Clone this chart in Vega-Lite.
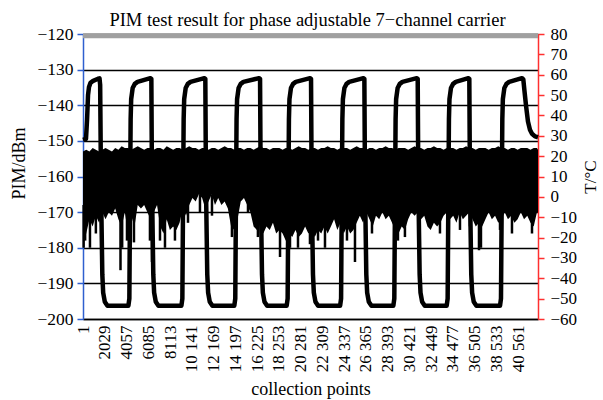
{
"$schema": "https://vega.github.io/schema/vega-lite/v6.json",
"width": 455, "height": 285,
"autosize": {"type": "none"},
"padding": {"left": 83, "top": 34, "right": 65, "bottom": 81},
"title": {"text": "PIM test result for phase adjustable 7−channel carrier", "font": "Liberation Serif", "fontSize": 18.5, "fontWeight": "normal", "color": "#000", "offset": -4, "anchor": "middle", "frame": "group", "dx": -3},
"config": {"view": {"stroke": null}, "axis": {"labelFont": "Liberation Serif", "titleFont": "Liberation Serif", "labelFontSize": 17, "titleFontSize": 17, "titleFontWeight": "normal", "labelColor": "#000", "titleColor": "#000"}},
"datasets": {
"noise": [
{"n":1,"hi":-153,"lo":-179},{"n":300,"hi":-152.5,"lo":-176},{"n":600,"hi":-153,"lo":-172},{"n":900,"hi":-152,"lo":-174},{"n":1200,"hi":-152.5,"lo":-171},{"n":1500,"hi":-153,"lo":-173},{"n":1800,"hi":-152.5,"lo":-170},{"n":2100,"hi":-152,"lo":-172},{"n":2400,"hi":-152.5,"lo":-170},{"n":2700,"hi":-153,"lo":-171},{"n":3000,"hi":-152,"lo":-169},{"n":3300,"hi":-152.5,"lo":-172},{"n":3600,"hi":-151.5,"lo":-174},{"n":3900,"hi":-152,"lo":-170},{"n":4200,"hi":-152,"lo":-176},{"n":4500,"hi":-152.5,"lo":-171},{"n":4800,"hi":-152,"lo":-174},{"n":5100,"hi":-151.5,"lo":-168},{"n":5400,"hi":-152,"lo":-169},{"n":5700,"hi":-152.5,"lo":-168},{"n":6000,"hi":-152,"lo":-170},{"n":6300,"hi":-152,"lo":-172},{"n":6600,"hi":-152.5,"lo":-170},{"n":6900,"hi":-152,"lo":-168},{"n":7200,"hi":-152,"lo":-174},{"n":7500,"hi":-152.5,"lo":-176},{"n":7800,"hi":-151.5,"lo":-172},{"n":8100,"hi":-152,"lo":-175},{"n":8400,"hi":-152.5,"lo":-174},{"n":8700,"hi":-152,"lo":-175},{"n":9000,"hi":-152,"lo":-173},{"n":9300,"hi":-152.5,"lo":-169},{"n":9600,"hi":-152,"lo":-171},{"n":9900,"hi":-151.5,"lo":-168},{"n":10200,"hi":-152,"lo":-166},{"n":10500,"hi":-152,"lo":-167},{"n":10800,"hi":-152.5,"lo":-165},{"n":11100,"hi":-152,"lo":-166},{"n":11400,"hi":-152,"lo":-169},{"n":11700,"hi":-152.5,"lo":-167},{"n":12000,"hi":-152,"lo":-165},{"n":12300,"hi":-152,"lo":-168},{"n":12600,"hi":-152.5,"lo":-166},{"n":12900,"hi":-152,"lo":-168},{"n":13200,"hi":-151.5,"lo":-167},{"n":13500,"hi":-152,"lo":-169},{"n":13800,"hi":-152,"lo":-174},{"n":14100,"hi":-152.5,"lo":-175},{"n":14400,"hi":-152,"lo":-172},{"n":14700,"hi":-152,"lo":-167},{"n":15000,"hi":-152.5,"lo":-166},{"n":15300,"hi":-152,"lo":-168},{"n":15600,"hi":-152,"lo":-170},{"n":15900,"hi":-152.5,"lo":-174},{"n":16200,"hi":-152,"lo":-175},{"n":16500,"hi":-151.5,"lo":-173},{"n":16800,"hi":-152,"lo":-176},{"n":17100,"hi":-152,"lo":-174},{"n":17400,"hi":-152.5,"lo":-175},{"n":17700,"hi":-152,"lo":-173},{"n":18000,"hi":-152,"lo":-176},{"n":18300,"hi":-152,"lo":-175},{"n":18600,"hi":-152.5,"lo":-176},{"n":18900,"hi":-152,"lo":-178},{"n":19200,"hi":-152,"lo":-176},{"n":19500,"hi":-152.5,"lo":-177},{"n":19800,"hi":-152,"lo":-175},{"n":20100,"hi":-151.5,"lo":-177},{"n":20400,"hi":-152,"lo":-176},{"n":20700,"hi":-152,"lo":-174},{"n":21000,"hi":-152.5,"lo":-176},{"n":21300,"hi":-152,"lo":-175},{"n":21600,"hi":-152,"lo":-177},{"n":21900,"hi":-152.5,"lo":-175},{"n":22200,"hi":-152,"lo":-176},{"n":22500,"hi":-152,"lo":-174},{"n":22800,"hi":-151.5,"lo":-176},{"n":23100,"hi":-152,"lo":-174},{"n":23400,"hi":-152,"lo":-172},{"n":23700,"hi":-152.5,"lo":-175},{"n":24000,"hi":-152,"lo":-173},{"n":24300,"hi":-152,"lo":-176},{"n":24600,"hi":-152,"lo":-174},{"n":24900,"hi":-152.5,"lo":-176},{"n":25200,"hi":-152,"lo":-175},{"n":25500,"hi":-151.5,"lo":-173},{"n":25800,"hi":-152,"lo":-171},{"n":26100,"hi":-152,"lo":-173},{"n":26400,"hi":-152.5,"lo":-170},{"n":26700,"hi":-152,"lo":-172},{"n":27000,"hi":-152,"lo":-174},{"n":27300,"hi":-152.5,"lo":-171},{"n":27600,"hi":-152,"lo":-172},{"n":27900,"hi":-152,"lo":-170},{"n":28200,"hi":-151.5,"lo":-172},{"n":28500,"hi":-152,"lo":-171},{"n":28800,"hi":-152,"lo":-173},{"n":29100,"hi":-152.5,"lo":-175},{"n":29400,"hi":-152,"lo":-176},{"n":29700,"hi":-152,"lo":-174},{"n":30000,"hi":-152,"lo":-175},{"n":30300,"hi":-152.5,"lo":-172},{"n":30600,"hi":-152,"lo":-170},{"n":30900,"hi":-151.5,"lo":-171},{"n":31200,"hi":-152,"lo":-170},{"n":31500,"hi":-152,"lo":-172},{"n":31800,"hi":-152.5,"lo":-171},{"n":32100,"hi":-152,"lo":-174},{"n":32400,"hi":-152,"lo":-175},{"n":32700,"hi":-151.5,"lo":-173},{"n":33000,"hi":-152,"lo":-174},{"n":33300,"hi":-152,"lo":-173},{"n":33600,"hi":-152.5,"lo":-171},{"n":33900,"hi":-152,"lo":-170},{"n":34200,"hi":-152,"lo":-172},{"n":34500,"hi":-152,"lo":-171},{"n":34800,"hi":-152.5,"lo":-173},{"n":35100,"hi":-152,"lo":-170},{"n":35400,"hi":-152,"lo":-172},{"n":35700,"hi":-151.5,"lo":-171},{"n":36000,"hi":-152,"lo":-170},{"n":36300,"hi":-152,"lo":-172},{"n":36600,"hi":-152.5,"lo":-174},{"n":36900,"hi":-152,"lo":-173},{"n":37200,"hi":-152,"lo":-174},{"n":37500,"hi":-152,"lo":-172},{"n":37800,"hi":-152.5,"lo":-170},{"n":38100,"hi":-152,"lo":-172},{"n":38400,"hi":-152,"lo":-171},{"n":38700,"hi":-151.5,"lo":-173},{"n":39000,"hi":-152,"lo":-172},{"n":39300,"hi":-152,"lo":-170},{"n":39600,"hi":-152.5,"lo":-172},{"n":39900,"hi":-152,"lo":-171},{"n":40200,"hi":-152,"lo":-173},{"n":40500,"hi":-152.5,"lo":-172},{"n":40800,"hi":-152,"lo":-170},{"n":41100,"hi":-152,"lo":-172},{"n":41400,"hi":-152,"lo":-171},{"n":41700,"hi":-152.5,"lo":-173},{"n":42000,"hi":-152,"lo":-174},{"n":42300,"hi":-152,"lo":-170},{"n":42400,"hi":-152.5,"lo":-170}
],
"spikes": [
{"n":60,"top":-168,"bot":-180},{"n":200,"top":-168,"bot":-178},{"n":650,"top":-168,"bot":-180},{"n":1200,"top":-168,"bot":-176},{"n":3495,"top":-168,"bot":-186.3},{"n":3650,"top":-168,"bot":-180},{"n":4100,"top":-168,"bot":-178},{"n":4750,"top":-168,"bot":-178.5},{"n":6240,"top":-168,"bot":-178},{"n":6430,"top":-168,"bot":-184},{"n":7175,"top":-168,"bot":-178},{"n":7640,"top":-168,"bot":-180},{"n":8570,"top":-168,"bot":-178},{"n":9785,"top":-165,"bot":-173},{"n":10900,"top":-165,"bot":-170},{"n":12020,"top":-165,"bot":-171},{"n":13880,"top":-168,"bot":-177},{"n":15375,"top":-165,"bot":-170},{"n":16300,"top":-168,"bot":-177},{"n":18360,"top":-168,"bot":-182.6},{"n":19290,"top":-168,"bot":-180},{"n":20035,"top":-168,"bot":-180},{"n":21150,"top":-168,"bot":-179},{"n":21900,"top":-168,"bot":-178},{"n":22550,"top":-168,"bot":-180},{"n":24600,"top":-168,"bot":-178},{"n":25345,"top":-168,"bot":-184},{"n":26930,"top":-168,"bot":-176},{"n":29350,"top":-168,"bot":-178},{"n":30000,"top":-168,"bot":-177},{"n":33265,"top":-168,"bot":-176},{"n":35130,"top":-168,"bot":-175},{"n":36060,"top":-168,"bot":-174},{"n":36900,"top":-168,"bot":-180.7},{"n":37085,"top":-168,"bot":-180},{"n":38860,"top":-168,"bot":-175},{"n":39975,"top":-168,"bot":-176},{"n":41840,"top":-168,"bot":-176}
],
"temp": [
{"n":1,"t":28},{"n":280,"t":28.5},{"n":380,"t":38},{"n":470,"t":50},{"n":560,"t":54},{"n":700,"t":56},{"n":950,"t":57},{"n":1400,"t":58},{"n":1540,"t":58.2},{"n":1600,"t":55},{"n":1680,"t":5},{"n":1800,"t":-38},{"n":1880,"t":-47},{"n":2030,"t":-51.5},{"n":2280,"t":-53.5},
{"n":4230,"t":-53.5},{"n":4320,"t":-50},{"n":4380,"t":-5},{"n":4440,"t":38},{"n":4490,"t":48},{"n":4630,"t":53.5},{"n":4830,"t":55.5},{"n":5080,"t":56.5},{"n":6280,"t":58.3},{"n":6370,"t":58},{"n":6430,"t":5},{"n":6550,"t":-38},{"n":6630,"t":-47},{"n":6780,"t":-51.5},{"n":7030,"t":-53.5},
{"n":9170,"t":-53.5},{"n":9260,"t":-50},{"n":9320,"t":-5},{"n":9380,"t":38},{"n":9430,"t":48},{"n":9570,"t":53.5},{"n":9770,"t":55.5},{"n":10020,"t":56.5},{"n":11310,"t":58.3},{"n":11400,"t":58},{"n":11460,"t":5},{"n":11580,"t":-38},{"n":11660,"t":-47},{"n":11810,"t":-51.5},{"n":12060,"t":-53.5},
{"n":14100,"t":-53.5},{"n":14190,"t":-50},{"n":14250,"t":-5},{"n":14310,"t":38},{"n":14360,"t":48},{"n":14500,"t":53.5},{"n":14700,"t":55.5},{"n":14950,"t":56.5},{"n":16410,"t":58.3},{"n":16500,"t":58},{"n":16560,"t":5},{"n":16680,"t":-38},{"n":16760,"t":-47},{"n":16910,"t":-51.5},{"n":17160,"t":-53.5},
{"n":18980,"t":-53.5},{"n":19070,"t":-50},{"n":19130,"t":-5},{"n":19190,"t":38},{"n":19240,"t":48},{"n":19380,"t":53.5},{"n":19580,"t":55.5},{"n":19830,"t":56.5},{"n":21160,"t":58.3},{"n":21250,"t":58},{"n":21310,"t":5},{"n":21430,"t":-38},{"n":21510,"t":-47},{"n":21660,"t":-51.5},{"n":21910,"t":-53.5},
{"n":23960,"t":-53.5},{"n":24050,"t":-50},{"n":24110,"t":-5},{"n":24170,"t":38},{"n":24220,"t":48},{"n":24360,"t":53.5},{"n":24560,"t":55.5},{"n":24810,"t":56.5},{"n":26130,"t":58.3},{"n":26220,"t":58},{"n":26280,"t":5},{"n":26400,"t":-38},{"n":26480,"t":-47},{"n":26630,"t":-51.5},{"n":26880,"t":-53.5},
{"n":28920,"t":-53.5},{"n":29010,"t":-50},{"n":29070,"t":-5},{"n":29130,"t":38},{"n":29180,"t":48},{"n":29320,"t":53.5},{"n":29520,"t":55.5},{"n":29770,"t":56.5},{"n":31100,"t":58.3},{"n":31190,"t":58},{"n":31250,"t":5},{"n":31370,"t":-38},{"n":31450,"t":-47},{"n":31600,"t":-51.5},{"n":31850,"t":-53.5},
{"n":33890,"t":-53.5},{"n":33980,"t":-50},{"n":34040,"t":-5},{"n":34100,"t":38},{"n":34150,"t":48},{"n":34290,"t":53.5},{"n":34490,"t":55.5},{"n":34740,"t":56.5},{"n":35910,"t":58.3},{"n":36000,"t":58},{"n":36060,"t":5},{"n":36180,"t":-38},{"n":36260,"t":-47},{"n":36410,"t":-51.5},{"n":36660,"t":-53.5},
{"n":38860,"t":-53.5},{"n":38950,"t":-50},{"n":39015,"t":-5},{"n":39075,"t":38},{"n":39125,"t":48},{"n":39265,"t":53.5},{"n":39465,"t":55.5},{"n":39715,"t":56.5},{"n":40900,"t":58.3},{"n":41030,"t":57.8},{"n":41140,"t":52},{"n":41280,"t":45},{"n":41465,"t":37},{"n":41650,"t":33},{"n":41840,"t":31},{"n":42120,"t":29.7},{"n":42400,"t":29.3}
]
},
"layer": [
{"layer": [
{"data": {"name": "noise"}, "mark": {"type": "area", "color": "#000", "opacity": 1},
 "encoding": {
  "x": {"field": "n", "type": "quantitative", "title": "collection points", "scale": {"domain": [1, 42400], "nice": false, "zero": false},
   "axis": {"title": "collection points", "values": [1,2029,4057,6085,8113,10141,12169,14197,16225,18253,20281,22309,24337,26365,28393,30421,32449,34477,36505,38533,40561], "labelAngle": -90, "labelExpr": "datum.value >= 10000 ? floor(datum.value / 1000) + ' ' + format(datum.value % 1000, '03d') : format(datum.value, 'd')", "ticks": false, "domainColor": "#000", "domainWidth": 1.5, "grid": false, "labelPadding": 6, "titlePadding": 9, "labelFlush": false, "labelOverlap": false, "labelFont": "Liberation Serif", "labelFontSize": 17, "titleFont": "Liberation Serif", "titleFontSize": 18}},
  "y": {"field": "hi", "type": "quantitative", "title": "PIM/dBm", "scale": {"domain": [-200, -120], "nice": false, "zero": false},
   "axis": {"orient": "left", "title": "PIM/dBm", "values": [-200,-190,-180,-170,-160,-150,-140,-130,-120], "grid": true, "gridColor": "#000", "gridWidth": 1.3, "domainColor": "#2f5fcf", "domainWidth": 1.5, "tickColor": "#2f5fcf", "tickSize": 6, "tickWidth": 1.5, "labelPadding": 4, "titlePadding": 8, "titleY": 129, "labelOverlap": false, "labelFont": "Liberation Serif", "labelFontSize": 17.5, "titleFont": "Liberation Serif", "titleFontSize": 18}},
  "y2": {"field": "lo"}
 }},
{"data": {"name": "spikes"}, "mark": {"type": "rule", "color": "#000", "strokeWidth": 2.5},
 "encoding": {
  "x": {"field": "n", "type": "quantitative", "title": "collection points", "scale": {"domain": [1, 42400], "nice": false, "zero": false},
   "axis": {"title": "collection points", "values": [1,2029,4057,6085,8113,10141,12169,14197,16225,18253,20281,22309,24337,26365,28393,30421,32449,34477,36505,38533,40561], "labelAngle": -90, "labelExpr": "datum.value >= 10000 ? floor(datum.value / 1000) + ' ' + format(datum.value % 1000, '03d') : format(datum.value, 'd')", "ticks": false, "domainColor": "#000", "domainWidth": 1.5, "grid": false, "labelPadding": 6, "titlePadding": 9, "labelFlush": false, "labelOverlap": false, "labelFont": "Liberation Serif", "labelFontSize": 17, "titleFont": "Liberation Serif", "titleFontSize": 18}},
  "y": {"field": "top", "type": "quantitative", "title": "PIM/dBm", "scale": {"domain": [-200, -120], "nice": false, "zero": false},
   "axis": {"orient": "left", "title": "PIM/dBm", "values": [-200,-190,-180,-170,-160,-150,-140,-130,-120], "grid": true, "gridColor": "#000", "gridWidth": 1.3, "domainColor": "#2f5fcf", "domainWidth": 1.5, "tickColor": "#2f5fcf", "tickSize": 6, "tickWidth": 1.5, "labelPadding": 4, "titlePadding": 8, "titleY": 129, "labelOverlap": false, "labelFont": "Liberation Serif", "labelFontSize": 17.5, "titleFont": "Liberation Serif", "titleFontSize": 18}},
  "y2": {"field": "bot"}
 }},
{"data": {"values": [{}]}, "mark": {"type": "rule", "color": "#a0a0a0", "strokeWidth": 5},
 "encoding": {"y": {"datum": -120.5, "type": "quantitative", "title": "PIM/dBm", "scale": {"domain": [-200, -120], "nice": false, "zero": false},
   "axis": {"orient": "left", "title": "PIM/dBm", "values": [-200,-190,-180,-170,-160,-150,-140,-130,-120], "grid": true, "gridColor": "#000", "gridWidth": 1.3, "domainColor": "#2f5fcf", "domainWidth": 1.5, "tickColor": "#2f5fcf", "tickSize": 6, "tickWidth": 1.5, "labelPadding": 4, "titlePadding": 8, "titleY": 129, "labelOverlap": false, "labelFont": "Liberation Serif", "labelFontSize": 17.5, "titleFont": "Liberation Serif", "titleFontSize": 18}}}}
]},
{"data": {"name": "temp"}, "mark": {"type": "line", "color": "#000", "strokeWidth": 4.5, "strokeJoin": "round"},
 "encoding": {
  "x": {"field": "n", "type": "quantitative", "title": "collection points", "scale": {"domain": [1, 42400], "nice": false, "zero": false},
   "axis": {"title": "collection points", "values": [1,2029,4057,6085,8113,10141,12169,14197,16225,18253,20281,22309,24337,26365,28393,30421,32449,34477,36505,38533,40561], "labelAngle": -90, "labelExpr": "datum.value >= 10000 ? floor(datum.value / 1000) + ' ' + format(datum.value % 1000, '03d') : format(datum.value, 'd')", "ticks": false, "domainColor": "#000", "domainWidth": 1.5, "grid": false, "labelPadding": 6, "titlePadding": 9, "labelFlush": false, "labelOverlap": false, "labelFont": "Liberation Serif", "labelFontSize": 17, "titleFont": "Liberation Serif", "titleFontSize": 18}},
  "y": {"field": "t", "type": "quantitative", "scale": {"domain": [-60, 80], "nice": false, "zero": false},
   "axis": {"orient": "right", "title": "T/°C", "values": [-60,-50,-40,-30,-20,-10,0,10,20,30,40,50,60,70,80], "grid": false, "domainColor": "#ff3030", "domainWidth": 1.5, "tickColor": "#ff3030", "tickSize": 6, "tickWidth": 1.5, "labelPadding": 6, "titlePadding": 6, "titleAngle": 270, "titleBaseline": "top", "labelOverlap": false, "labelFont": "Liberation Serif", "labelFontSize": 17, "titleFont": "Liberation Serif", "titleFontSize": 17}}
 }}
],
"resolve": {"scale": {"y": "independent"}}
}
